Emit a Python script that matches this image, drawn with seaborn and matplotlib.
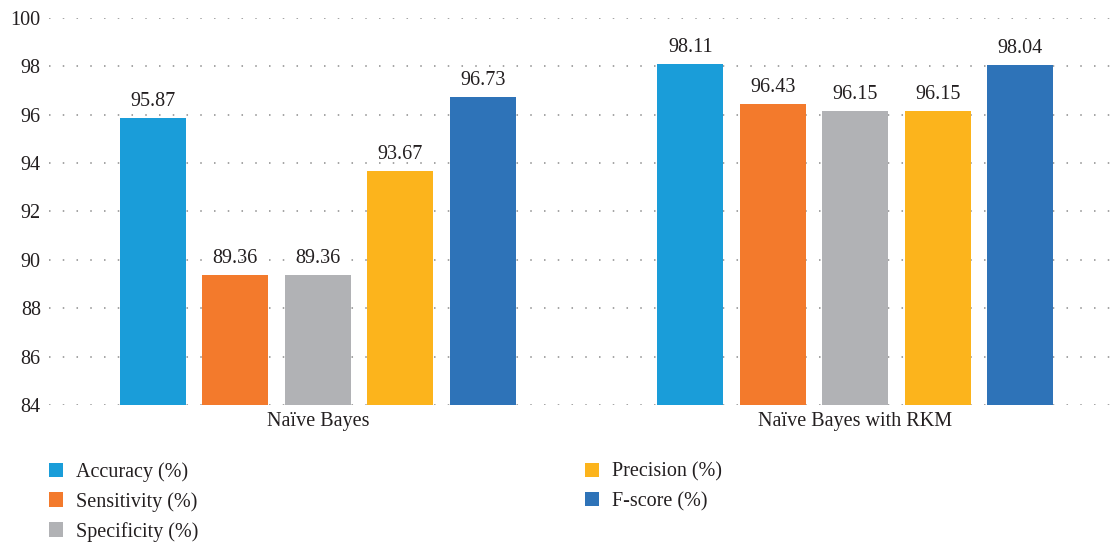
import numpy as np
import pandas as pd
import matplotlib
matplotlib.use("Agg")
import matplotlib.pyplot as plt
import seaborn as sns

models = ["Naïve Bayes", "Naïve Bayes with RKM"]
metrics = ["Accuracy (%)", "Sensitivity (%)", "Specificity (%)", "Precision (%)", "F-score (%)"]
naive_bayes = [95.87, 89.36, 89.36, 93.67, 96.73]
naive_bayes_rkm = [98.11, 96.43, 96.15, 96.15, 98.04]
colors = ["#1a9dd9", "#f37a2c", "#b1b2b5", "#fcb41c", "#2e73b8"]
yticks = [84, 86, 88, 90, 92, 94, 96, 98, 100]

df = pd.DataFrame({
    "model": [models[0]] * len(metrics) + [models[1]] * len(metrics),
    "metric": metrics * 2,
    "value": naive_bayes + naive_bayes_rkm,
})

sns.set_theme(style="white")
plt.rcParams["font.family"] = ["Liberation Serif", "DejaVu Serif"]
text_color = "#231f20"
fs = 14.5

fig = plt.figure(figsize=(11.16, 5.43), dpi=100)
ax = fig.add_axes([0.044, 0.254, 0.951, 0.713])

sns.barplot(data=df, x="model", y="value", hue="metric", hue_order=metrics,
            palette=colors, width=0.767, gap=0.2, ax=ax, saturation=1,
            edgecolor="none", linewidth=0, zorder=3)

ax.set_ylim(84, 100)
ax.set_xlim(-0.5, 1.475)
ax.set_yticks(yticks)
ax.set_yticklabels([str(t) for t in yticks])
ax.yaxis.grid(True, linestyle=(0, (1, 8)), linewidth=1.1, color="#8c8c8c", zorder=0)
ax.xaxis.grid(False)
ax.set_axisbelow(True)
for s in ax.spines.values():
    s.set_visible(False)
ax.tick_params(axis="both", length=0, labelsize=fs, colors=text_color)
ax.tick_params(axis="x", pad=5)
ax.tick_params(axis="y", pad=6)
ax.set_xlabel("")
ax.set_ylabel("")

for cont in ax.containers:
    ax.bar_label(cont, labels=[f"{v:.2f}" for v in cont.datavalues],
                 padding=5, fontsize=fs, color=text_color)

handles, labels = ax.get_legend_handles_labels()
if ax.legend_:
    ax.legend_.remove()
fig.legend(handles, labels, loc="upper left", bbox_to_anchor=(0.0365, 0.164),
           ncol=2, frameon=False, fontsize=fs, labelcolor=text_color,
           handlelength=0.7, handleheight=0.7, handletextpad=0.65,
           columnspacing=19.2, labelspacing=0.5, borderaxespad=0)

fig.savefig("out.png", dpi=100)
